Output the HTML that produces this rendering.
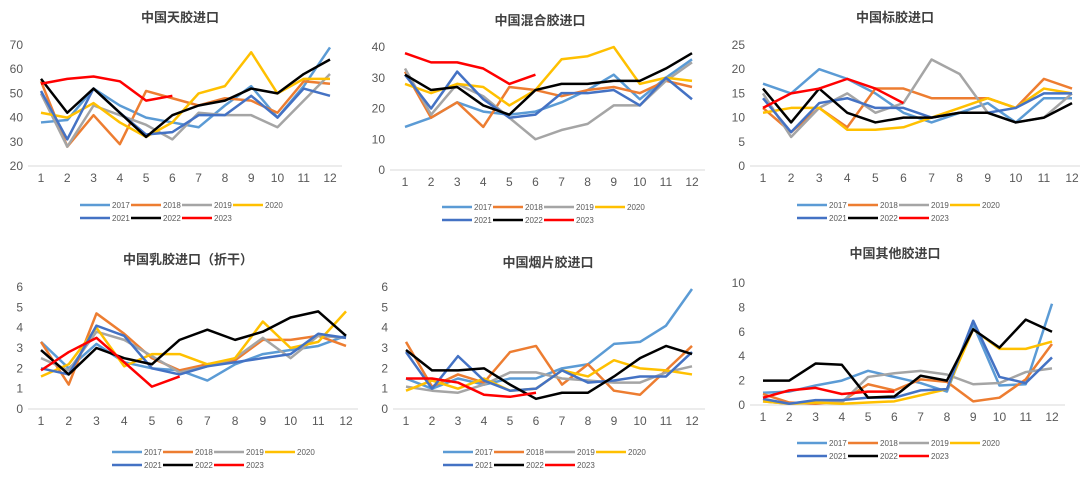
<!DOCTYPE html><html><head><meta charset="utf-8"><style>body{margin:0;background:#fff}svg{display:block}text{font-family:"Liberation Sans","Noto Sans CJK SC",sans-serif}</style></head><body>
<svg id="s" width="1080" height="480" xmlns="http://www.w3.org/2000/svg"></svg>
<script>
const C=["#5B9BD5","#ED7D31","#A5A5A5","#FFC000","#4472C4","#000000","#FF0000"],Y=["2017","2018","2019","2020","2021","2022","2023"];
const P=[
{t:"中国天胶进口",tx:180,ty:22,x1:41,x12:330,ax0:28,ax1:342,y0:166,ytop:45,min:20,max:70,step:10,lx:80,ly:205,d:[
[38,39,52,45,40,38,36,45,53,40,53,69],[55,28,41,29,51,48,45,48,47,42,55,54],[50,28,45,41,37,31,42,41,41,36,47,58],[42,40,46,38,32,38,50,53,67,50,56,56],[51,31,52,42,33,34,41,41,49,40,52,49],[56,42,52,42,32,41,45,47,52,50,58,64],[54,56,57,55,47,49]]},
{t:"中国混合胶进口",tx:540,ty:25,x1:405,x12:692,ax0:390,ax1:705,y0:170,ytop:47,min:0,max:40,step:10,lx:442,ly:207,d:[
[14,17,22,19,18,19,22,26,31,23,30,36],[32,17,22,14,27,26,24,26,27,25,29,27],[33,18,28,24,17,10,13,15,21,21,29,35],[28,25,28,27,21,26,36,37,40,28,30,29],[31,20,32,23,17,18,25,25,26,21,30,23],[31,26,27,21,18,26,28,28,29,29,33,38],[38,35,35,33,28,31]]},
{t:"中国标胶进口",tx:895,ty:22,x1:763,x12:1072,ax0:750,ax1:1080,y0:166,ytop:45,min:0,max:25,step:5,lx:797,ly:205,d:[
[17,15,20,18,15,11,9,11,13,9,14,14],[12,7,12,8,16,16,14,14,14,12,18,16],[15,6,12,15,11,13,22,19,11,9,10,15],[11,12,12,7.5,7.5,8,10,12,14,12,16,15],[14,7,13,14,12,12,10,11,11,12,15,15],[16,9,16,11,9,10,10,11,11,9,10,13],[12,15,16,18,16,13]]},
{t:"中国乳胶进口（折干）",tx:188,ty:264,x1:41,x12:346,ax0:28,ax1:358,y0:409,ytop:287,min:0,max:6,step:1,lx:112,ly:452,d:[
[3.3,2.0,3.2,2.3,2.0,1.9,1.4,2.2,2.7,2.9,3.1,3.6],[3.3,1.2,4.7,3.7,2.5,1.9,2.2,2.4,3.4,3.4,3.6,3.1],[2.5,1.9,3.8,3.4,2.6,1.8,2.1,2.5,3.5,2.5,3.6,3.5],[1.6,2.2,4.0,2.1,2.7,2.7,2.2,2.5,4.3,3.0,3.3,4.8],[2.0,1.7,4.1,3.6,2.0,1.7,2.1,2.3,2.5,2.7,3.7,3.5],[2.9,1.7,3.0,2.5,2.2,3.4,3.9,3.4,3.8,4.5,4.8,3.6],[1.9,2.8,3.5,2.3,1.1,1.6]]},
{t:"中国烟片胶进口",tx:548,ty:267,x1:406,x12:692,ax0:393,ax1:705,y0:409,ytop:287,min:0,max:6,step:1,lx:443,ly:452,d:[
[1.5,1.0,1.5,1.2,1.5,1.5,2.0,2.2,3.2,3.3,4.1,5.9],[3.3,1.1,1.7,1.3,2.8,3.1,1.2,2.2,0.9,0.7,1.9,3.1],[1.1,0.9,0.8,1.2,1.8,1.8,1.5,1.4,1.3,1.3,1.8,2.1],[0.9,1.4,1.0,1.5,0.9,1.0,1.9,1.6,2.4,2.0,1.9,1.7],[2.8,1.0,2.6,1.4,0.9,1.0,1.9,1.3,1.4,1.6,1.6,2.8],[2.9,1.9,1.9,2.0,1.2,0.5,0.8,0.8,1.6,2.5,3.1,2.7],[1.5,1.5,1.3,0.7,0.6,0.8]]},
{t:"中国其他胶进口",tx:895,ty:258,x1:763,x12:1052,ax0:750,ax1:1065,y0:405,ytop:283,min:0,max:10,step:2,lx:797,ly:443,d:[
[1.0,1.1,1.6,2.0,2.8,2.3,1.8,1.1,6.6,1.6,1.7,8.3],[0.9,0.2,0.1,0.3,1.7,1.2,2.1,1.9,0.3,0.6,2.1,5.0],[0.3,0.1,0.2,0.2,2.3,2.6,2.8,2.5,1.7,1.8,2.7,3.0],[0.3,0.1,0.2,0.1,0.2,0.3,0.8,1.3,6.2,4.6,4.6,5.2],[0.5,0.1,0.4,0.4,0.6,0.6,1.2,1.3,6.9,2.3,1.8,3.9],[2.0,2.0,3.4,3.3,0.6,0.7,2.4,2.0,6.2,4.7,7.0,6.0],[0.6,1.2,1.4,0.9,1.1,1.1]]}];
let h="";
for(const p of P){
 const sx=i=>p.x1+i*(p.x12-p.x1)/11, sy=v=>p.y0-(v-p.min)/(p.max-p.min)*(p.y0-p.ytop);
 h+=`<text x="${p.tx}" y="${p.ty}" font-size="13" font-weight="bold" fill="#404040" text-anchor="middle">${p.t}</text>`;
 h+=`<line x1="${p.ax0}" x2="${p.ax1}" y1="${p.y0}" y2="${p.y0}" stroke="#d9d9d9"/>`;
 for(let v=p.min;v<=p.max;v+=p.step)h+=`<text x="${p.ax0-5}" y="${sy(v)+4}" font-size="12" fill="#595959" text-anchor="end">${v}</text>`;
 for(let i=0;i<12;i++)h+=`<text x="${sx(i)}" y="${p.y0+16}" font-size="12" fill="#595959" text-anchor="middle">${i+1}</text>`;
 p.d.forEach((s,k)=>{h+=`<polyline fill="none" stroke="${C[k]}" stroke-width="2.5" stroke-linejoin="round" points="${s.map((v,i)=>sx(i)+','+sy(v)).join(' ')}"/>`;});
 for(let k=0;k<7;k++){const r=k<4?0:1,c=k<4?k:k-4,x=p.lx+c*51,y=p.ly+r*13;
  h+=`<line x1="${x}" x2="${x+30}" y1="${y}" y2="${y}" stroke="${C[k]}" stroke-width="2.5"/><text x="${x+32}" y="${y+3}" font-size="8" fill="#595959">${Y[k]}</text>`;}
}
document.getElementById("s").innerHTML=h;
</script></body></html>
